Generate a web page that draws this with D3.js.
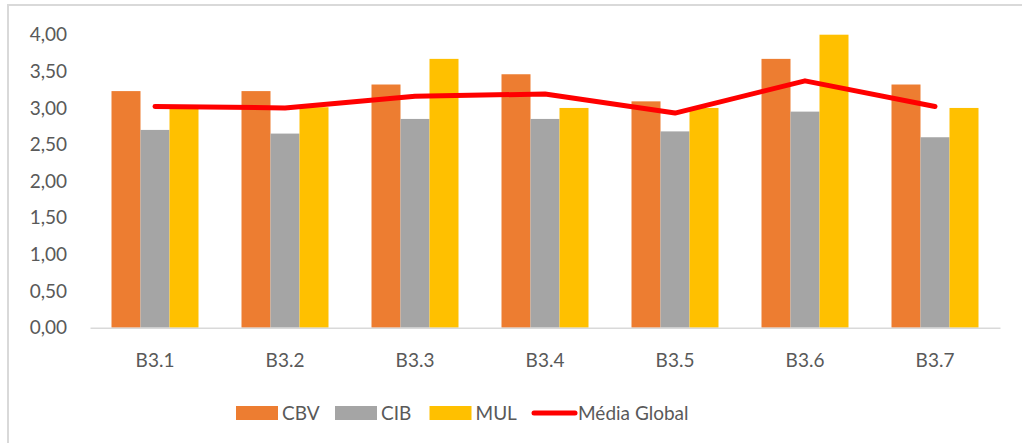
<!DOCTYPE html>
<html>
<head>
<meta charset="utf-8">
<script src="https://cdn.jsdelivr.net/npm/d3@7"></script>
<style>
  body { margin: 0; background: #fff; }
  svg text { font-family: Lato, "Open Sans", sans-serif; fill: #595959; }
</style>
</head>
<body>
<div id="chart"></div>
<script>
const categories = ['B3.1', 'B3.2', 'B3.3', 'B3.4', 'B3.5', 'B3.6', 'B3.7'];
const series = ['CBV', 'CIB', 'MUL'];
const cbv = [3.23, 3.23, 3.32, 3.46, 3.09, 3.67, 3.32];
const cib = [2.70, 2.65, 2.85, 2.85, 2.68, 2.95, 2.60];
const mul = [3.00, 3.01, 3.67, 3.00, 3.00, 4.00, 3.00];
const mediaGlobal = [3.02, 3.00, 3.16, 3.19, 2.93, 3.37, 3.02];
const yTicks = [0, 0.5, 1, 1.5, 2, 2.5, 3, 3.5, 4];
const colors = { CBV: '#ED7D31', CIB: '#A5A5A5', MUL: '#FFC000' };

const width = 1022, height = 443;
const svg = d3.select('#chart').append('svg')
    .attr('width', width)
    .attr('height', height);

// chart area border (only top and left visible in the crop)
svg.append('path')
    .attr('d', 'M8,443 V5 H1022')
    .attr('fill', 'none')
    .attr('stroke', '#d9d9d9')
    .attr('stroke-width', 2);

const plot = { left: 90, right: 1000, top: 34.7, bottom: 327.7 };

const x = d3.scaleBand().domain(categories).range([plot.left, plot.right]).padding(0);
const xInner = d3.scaleBand().domain(series)
    .range([(x.bandwidth() - 87) / 2, (x.bandwidth() + 87) / 2]).padding(0);
const y = d3.scaleLinear().domain([0, 4]).range([plot.bottom, plot.top]);

const fmt = v => d3.format('.2f')(v).replace('.', ',');

// y axis labels
const yAxis = d3.axisLeft(y).tickValues(yTicks).tickFormat(fmt).tickSize(0).tickPadding(0);
const gy = svg.append('g').attr('transform', 'translate(67,0)').call(yAxis);
gy.select('.domain').remove();
gy.selectAll('text').attr('font-size', 19).attr('fill', '#595959').attr('font-family', 'Lato, sans-serif');

// bars
const rows = categories.map((c, i) => ({ cat: c, CBV: cbv[i], CIB: cib[i], MUL: mul[i] }));
const groups = svg.selectAll('.grp').data(rows).enter().append('g')
    .attr('transform', d => `translate(${x(d.cat)},0)`);
groups.selectAll('rect')
    .data(d => series.map(s => ({ key: s, value: d[s] })))
    .enter().append('rect')
    .attr('x', d => xInner(d.key))
    .attr('y', d => y(d.value))
    .attr('width', xInner.bandwidth())
    .attr('height', d => y(0) - y(d.value))
    .attr('fill', d => colors[d.key]);

// x axis
const xAxis = d3.axisBottom(x).tickSize(0).tickPadding(0);
const gx = svg.append('g').attr('transform', `translate(0,${plot.bottom})`).call(xAxis);
gx.select('.domain').attr('stroke', '#d9d9d9').attr('stroke-width', 1.5);
gx.selectAll('text').attr('dy', 0).attr('y', 39).attr('font-size', 19)
    .attr('fill', '#595959').attr('font-family', 'Lato, sans-serif');

// media global line
const line = d3.line()
    .x((d, i) => x(categories[i]) + x.bandwidth() / 2)
    .y(d => y(d));
svg.append('path')
    .datum(mediaGlobal)
    .attr('d', line)
    .attr('fill', 'none')
    .attr('stroke', '#FF0000')
    .attr('stroke-width', 5)
    .attr('stroke-linecap', 'round')
    .attr('stroke-linejoin', 'round');

// legend
const legend = svg.append('g').attr('transform', 'translate(0,413)');
const legendItems = [
    { name: 'CBV', x: 236, type: 'rect' },
    { name: 'CIB', x: 335, type: 'rect' },
    { name: 'MUL', x: 429.5, type: 'rect' },
    { name: 'Média Global', x: 532, type: 'line' }
];
legendItems.forEach(item => {
    if (item.type === 'rect') {
        legend.append('rect')
            .attr('x', item.x).attr('y', -7)
            .attr('width', 42).attr('height', 14)
            .attr('fill', colors[item.name]);
    } else {
        legend.append('line')
            .attr('x1', item.x + 2).attr('x2', item.x + 43)
            .attr('y1', 0).attr('y2', 0)
            .attr('stroke', '#FF0000').attr('stroke-width', 5)
            .attr('stroke-linecap', 'round');
    }
    legend.append('text')
        .attr('x', item.x + 46)
        .attr('y', 7)
        .attr('font-size', 19)
        .text(item.name);
});
</script>
</body>
</html>
